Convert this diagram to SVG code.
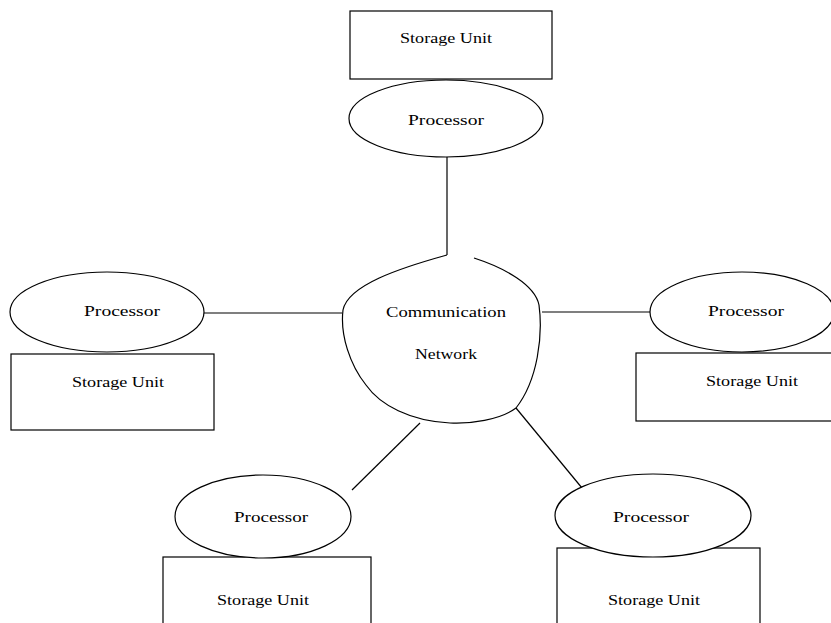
<svg xmlns="http://www.w3.org/2000/svg" width="831" height="623" viewBox="0 0 831 623">
<style>
.shape{fill:#fff;stroke:#000;stroke-width:1.2}
.conn{fill:none;stroke:#000;stroke-width:1.2}
text{font-family:"Liberation Serif","Times New Roman",serif;font-size:15px;fill:#000;text-anchor:middle}
</style>
<rect width="831" height="623" fill="#fff"/>
<g id="connectors">
<path class="conn" d="M447,157 V255"/>
<path class="conn" d="M204,313 H342"/>
<path class="conn" d="M542,312 H650"/>
<path class="conn" d="M420,423 L352,490"/>
<path class="conn" d="M516,408 L582,488"/>
</g>
<g id="network">
<path class="conn" d="M474,258 C505,268 535,285 539,305 C543,335 538,380 516,408 C500,420 470,424 450,423 C410,421 380,405 366,385 C350,365 340,335 343,310 C348,285 400,268 447,255"/>
<text x="446" y="317" textLength="120" lengthAdjust="spacingAndGlyphs">Communication</text>
<text x="446" y="359" textLength="62" lengthAdjust="spacingAndGlyphs">Network</text>
</g>
<g id="storage-top">
<rect class="shape" x="350" y="11" width="202" height="68"/>
<text x="446" y="43" textLength="92" lengthAdjust="spacingAndGlyphs">Storage Unit</text>
</g>
<g id="processor-top">
<ellipse class="shape" cx="446" cy="118.5" rx="97" ry="38.5"/>
<text x="446" y="125" textLength="76" lengthAdjust="spacingAndGlyphs">Processor</text>
</g>
<g id="storage-left">
<rect class="shape" x="11" y="354" width="203" height="76"/>
<text x="118" y="387" textLength="92" lengthAdjust="spacingAndGlyphs">Storage Unit</text>
</g>
<g id="processor-left">
<ellipse class="shape" cx="107" cy="312" rx="97" ry="40"/>
<text x="122" y="316" textLength="76" lengthAdjust="spacingAndGlyphs">Processor</text>
</g>
<g id="storage-right">
<rect class="shape" x="636" y="353" width="200" height="68"/>
<text x="752" y="386" textLength="92" lengthAdjust="spacingAndGlyphs">Storage Unit</text>
</g>
<g id="processor-right">
<ellipse class="shape" cx="742" cy="312" rx="92" ry="40"/>
<text x="746" y="316" textLength="76" lengthAdjust="spacingAndGlyphs">Processor</text>
</g>
<g id="storage-bottom-left">
<rect class="shape" x="163" y="557" width="208" height="80"/>
<text x="263" y="605" textLength="92" lengthAdjust="spacingAndGlyphs">Storage Unit</text>
</g>
<g id="processor-bottom-left">
<ellipse class="shape" cx="263" cy="516.5" rx="88" ry="41.5"/>
<text x="271" y="522" textLength="74" lengthAdjust="spacingAndGlyphs">Processor</text>
</g>
<g id="storage-bottom-right">
<rect class="shape" x="557" y="548" width="203" height="90"/>
<text x="654" y="605" textLength="92" lengthAdjust="spacingAndGlyphs">Storage Unit</text>
</g>
<g id="processor-bottom-right">
<ellipse class="shape" cx="653" cy="515.5" rx="98" ry="41.5"/>
<text x="651" y="522" textLength="76" lengthAdjust="spacingAndGlyphs">Processor</text>
</g>
</svg>
